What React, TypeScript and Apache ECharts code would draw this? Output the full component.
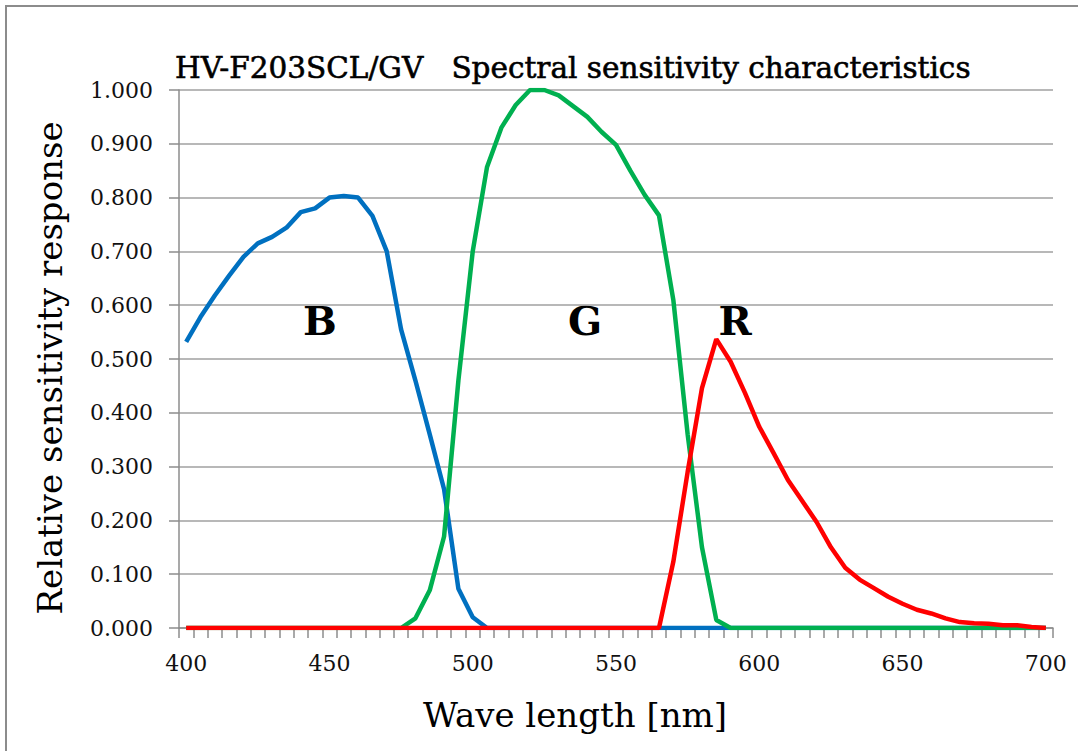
import React, { useEffect, useRef } from "react";
import * as echarts from "echarts";

const wavelengths: string[] = [];
for (let w = 400; w <= 700; w += 5) wavelengths.push(String(w));

// 400,405,...,700 (61 values)
const blueValues = [
  0.532, 0.578, 0.618, 0.655, 0.69, 0.715, 0.727, 0.744, 0.773, 0.78,
  0.8, 0.803, 0.8, 0.766, 0.7, 0.555, 0.46, 0.36, 0.258, 0.073,
  0.02, 0, 0, 0, 0, 0, 0, 0, 0, 0,
  0, 0, 0, 0, 0, 0, 0, 0, 0, 0,
  0, 0, 0, 0, 0, 0, 0, 0, 0, 0,
  0, 0, 0, 0, 0, 0, 0, 0, 0, 0,
  0,
];
const greenValues = [
  0, 0, 0, 0, 0, 0, 0, 0, 0, 0,
  0, 0, 0, 0, 0, 0, 0.018, 0.07, 0.17, 0.46,
  0.7, 0.857, 0.93, 0.972, 1.0, 1.0, 0.99, 0.97, 0.95, 0.922,
  0.898, 0.85, 0.805, 0.767, 0.61, 0.36, 0.15, 0.015, 0, 0,
  0, 0, 0, 0, 0, 0, 0, 0, 0, 0,
  0, 0, 0, 0, 0, 0, 0, 0, 0, 0,
  0,
];
const redValues = [
  0, 0, 0, 0, 0, 0, 0, 0, 0, 0,
  0, 0, 0, 0, 0, 0, 0, 0, 0, 0,
  0, 0, 0, 0, 0, 0, 0, 0, 0, 0,
  0, 0, 0, 0, 0.123, 0.29, 0.446, 0.537, 0.495, 0.437,
  0.374, 0.325, 0.275, 0.236, 0.197, 0.15, 0.112, 0.09, 0.074, 0.058,
  0.045, 0.034, 0.027, 0.018, 0.011, 0.009, 0.008, 0.005, 0.005, 0.002,
  0,
];

const chartTitle = "HV-F203SCL/GV   Spectral sensitivity characteristics";
const yAxisTitle = "Relative sensitivity response";
const xAxisTitle = "Wave length [nm]";
const seriesLabels = ["B", "G", "R"];

const FONT = "'DejaVu Serif', 'Liberation Serif', serif";
const GRAY = "#8c8c8c";

export default function App() {
  const ref = useRef<HTMLDivElement>(null);
  useEffect(() => {
    if (!ref.current) return;
    const chart = echarts.init(ref.current, null, { renderer: "svg" });
    chart.setOption({
      animation: false,
      backgroundColor: "#ffffff",
      grid: { left: 179, right: 25, top: 90, bottom: 123, containLabel: false },
      xAxis: {
        type: "category",
        data: wavelengths,
        boundaryGap: true,
        axisLine: { show: true, lineStyle: { color: GRAY, width: 1.5 } },
        axisTick: {
          show: true,
          interval: 0,
          length: 10,
          alignWithLabel: false,
          lineStyle: { color: GRAY, width: 1.5 },
        },
        axisLabel: {
          interval: 9,
          margin: 24,
          color: "#111",
          fontFamily: FONT,
          fontSize: 22,
        },
        splitLine: { show: false },
      },
      yAxis: {
        type: "value",
        min: 0,
        max: 1,
        interval: 0.1,
        axisLine: { show: true, lineStyle: { color: GRAY, width: 1.5 } },
        axisTick: { show: true, length: 10, lineStyle: { color: GRAY, width: 1.5 } },
        axisLabel: {
          margin: 26,
          color: "#111",
          fontFamily: FONT,
          fontSize: 22,
          formatter: (v: number) => v.toFixed(3),
        },
        splitLine: { show: true, lineStyle: { color: "#a0a0a0", width: 1.5 } },
      },
      series: [
        {
          name: seriesLabels[0],
          type: "line",
          data: blueValues,
          symbol: "none",
          lineStyle: { color: "#0070C0", width: 4.5 },
          z: 2,
        },
        {
          name: seriesLabels[1],
          type: "line",
          data: greenValues,
          symbol: "none",
          lineStyle: { color: "#00B050", width: 4.5 },
          z: 3,
        },
        {
          name: seriesLabels[2],
          type: "line",
          data: redValues,
          symbol: "none",
          lineStyle: { color: "#FF0000", width: 4.5 },
          z: 4,
        },
      ],
      graphic: [
        {
          type: "rect",
          shape: { x: 6, y: 6, width: 1200, height: 900 },
          style: { fill: "none", stroke: GRAY, lineWidth: 2 },
          silent: true,
          z: -10,
        },
        {
          type: "text",
          x: 175,
          y: 68,
          style: {
            text: chartTitle,
            font: `29.5px ${FONT}`,
            fill: "#000",
            stroke: "#000",
            lineWidth: 0.6,
            textAlign: "left",
            textVerticalAlign: "middle",
          },
        },
        {
          type: "text",
          x: 50,
          y: 368,
          rotation: Math.PI / 2,
          style: {
            text: yAxisTitle,
            font: `34px ${FONT}`,
            fill: "#000",
            textAlign: "center",
            textVerticalAlign: "middle",
          },
        },
        {
          type: "text",
          x: 575,
          y: 715,
          style: {
            text: xAxisTitle,
            font: `34px ${FONT}`,
            fill: "#000",
            textAlign: "center",
            textVerticalAlign: "middle",
          },
        },
        {
          type: "text",
          x: 320,
          y: 320,
          style: {
            text: seriesLabels[0],
            font: `bold 40px ${FONT}`,
            fill: "#000",
            textAlign: "center",
            textVerticalAlign: "middle",
          },
        },
        {
          type: "text",
          x: 585,
          y: 320,
          style: {
            text: seriesLabels[1],
            font: `bold 40px ${FONT}`,
            fill: "#000",
            textAlign: "center",
            textVerticalAlign: "middle",
          },
        },
        {
          type: "text",
          x: 735,
          y: 320,
          style: {
            text: seriesLabels[2],
            font: `bold 40px ${FONT}`,
            fill: "#000",
            textAlign: "center",
            textVerticalAlign: "middle",
          },
        },
      ],
    });
    return () => chart.dispose();
  }, []);
  return (
    <div
      ref={ref}
      style={{ position: "absolute", left: 0, top: 0, width: 1078, height: 751 }}
    />
  );
}
